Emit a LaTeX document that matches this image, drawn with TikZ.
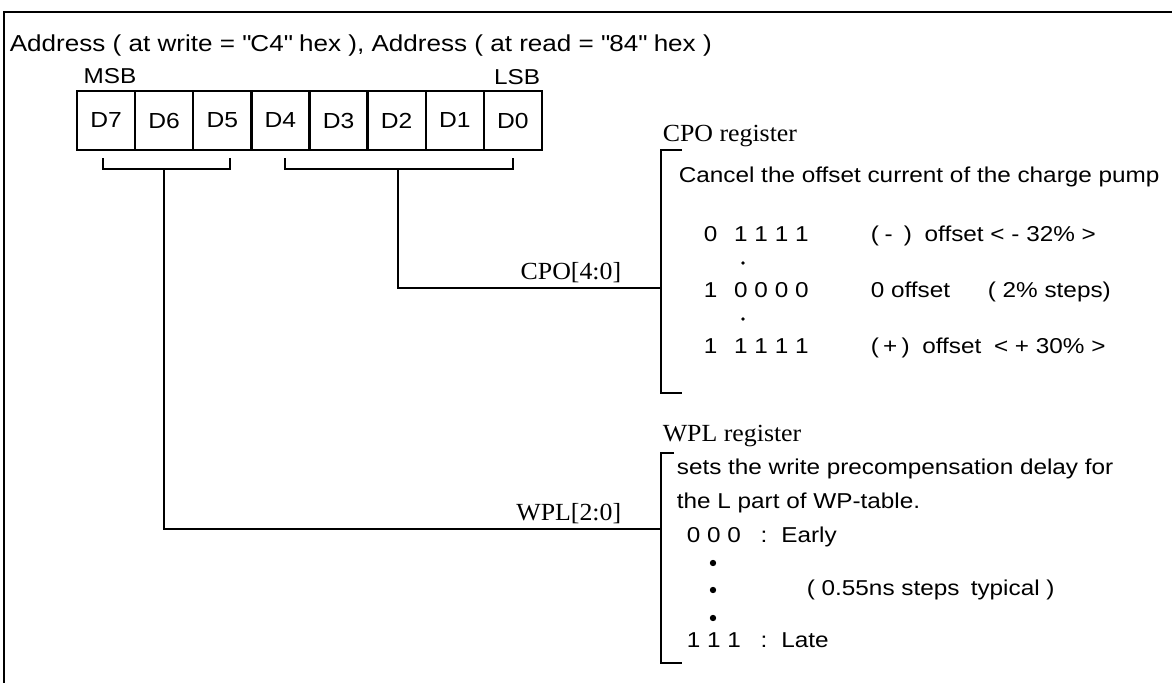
\documentclass[tikz,border=0pt]{standalone}
\usepackage{fontspec}
\setmainfont{Liberation Serif}[FakeStretch=1.05]
\setsansfont{Liberation Sans}[FakeStretch=1.13]
\usetikzlibrary{positioning, calc}

\begin{document}
\begin{tikzpicture}[
  x=0.025cm, y=-0.025cm,
  line width=1.2pt,
  txt/.style={font=\sffamily\fontsize{15.3}{18}\selectfont, inner sep=0pt, anchor=base west},
  reg/.style={font=\rmfamily\fontsize{17.5}{20}\selectfont, inner sep=0pt},
  cell/.style={draw, line width=1.6pt, minimum width=1.453cm, minimum height=1.475cm,
    inner sep=0pt, font=\sffamily\fontsize{15.5}{18}\selectfont},
  dot/.style={fill, circle, inner sep=1pt},
  bullet/.style={fill, circle, inner sep=1.6pt},
]
  \useasboundingbox (0,0) rectangle (1172,683);

  % Frame
  \draw[line width=1.4pt] (4,683) -- (4,12) -- (1172,12);

  % Address line
  \node[txt, font=\sffamily\fontsize{16.4}{19}\selectfont] (addr) at (9,52) {Address ( at write = \textquotedbl C4\textquotedbl\ hex ), Address ( at read = \textquotedbl 84\textquotedbl\ hex )};
  \node[txt, anchor=base] (msb) at (110,84) {MSB};
  \node[txt, anchor=base] (lsb) at (517,85) {LSB};

  % Register bits D7..D0
  \foreach \b [count=\i from 0] in {7,6,...,0}
    \node[cell] (d\b) at ({77+58.125*(\i+0.5)},120.5) {D\b};

  % Bit field brackets
  \draw (103,158) |- (230,169) -- (230,158);
  \draw (285,158) |- (513,169) -- (513,158);
  \coordinate (wplTap) at (164,169);
  \coordinate (cpoTap) at (398,169);

  % Taps to the registers
  \coordinate (cpoBar) at (661,288);
  \coordinate (wplBar) at (661,529);
  \draw (cpoTap) |- (cpoBar);
  \draw (wplTap) |- (wplBar);
  \node[reg, anchor=base east] (cpoLbl) at (622,279) {CPO[4:0]};
  \node[reg, anchor=base east] (wplLbl) at (622,520) {WPL[2:0]};

  % CPO register
  \node[reg, anchor=base west] (cpoName) at (662,141) {CPO register};
  \draw (682,150) -| (661,393) -- (682,393);
  \node[txt] (cpoDesc) at (678,182) {Cancel the offset current of the charge pump};
  \node[txt] (cpoMinCode) at (703,241) {0\hspace{12pt}1 1 1 1};
  \node[txt] (cpoMinText) at (870,241) {(\hspace{4pt}-\hspace{8pt})\hspace{9pt}offset < - 32\% >};
  \node[dot] (cpoDotA) at (743,263) {};
  \node[txt] (cpoZeroCode) at (703,297) {1\hspace{12pt}0 0 0 0};
  \node[txt] (cpoZeroText) at (870,297) {0 offset};
  \node[txt] (cpoStep) at (987,297) {( 2\% steps)};
  \node[dot] (cpoDotB) at (743,319) {};
  \node[txt] (cpoMaxCode) at (703,353) {1\hspace{12pt}1 1 1 1};
  \node[txt] (cpoMaxText) at (870,353) {(\hspace{3pt}+\hspace{3pt})\hspace{9pt}offset\hspace{9pt}< + 30\% >};

  % WPL register
  \node[reg, anchor=base west] (wplName) at (662,441) {WPL register};
  \draw (674,453) -| (661,663) -- (682,663);
  \node[txt] (wplDesc) at (676,474) {sets the write precompensation delay for};
  \node[txt] (wplDescB) at (676,508) {the L part of WP-table.};
  \node[txt] (wplEarly) at (686,542) {0 0 0\hspace{14pt}:\hspace{10pt}Early};
  \node[bullet] (wplDotA) at (713,563) {};
  \node[bullet] (wplDotB) at (713,590) {};
  \node[bullet] (wplDotC) at (713,618) {};
  \node[txt, anchor=west] (wplStep) at (806,590) {( 0.55ns steps\hspace{8pt}typical )};
  \node[txt] (wplLate) at (686,647) {1 1 1\hspace{14pt}:\hspace{10pt}Late};
\end{tikzpicture}
\end{document}
